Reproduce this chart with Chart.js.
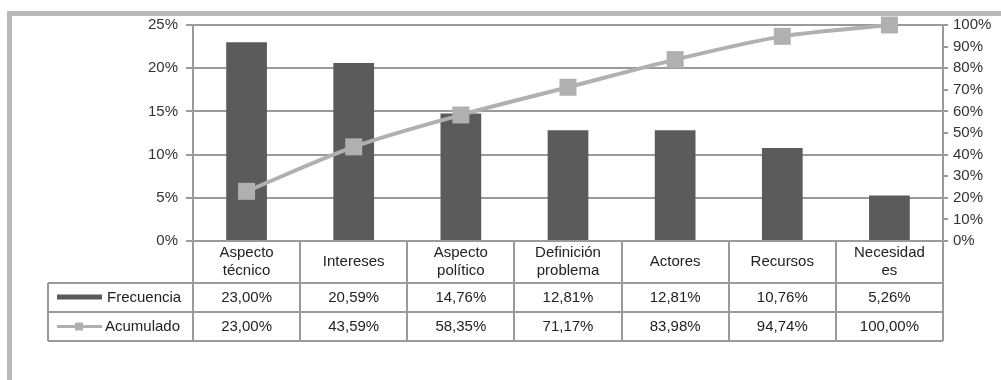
<!DOCTYPE html>
<html>
<head>
<meta charset="utf-8">
<script src="https://cdn.jsdelivr.net/npm/chart.js@4/dist/chart.umd.min.js"></script>
<style>
	html, body { margin: 0; padding: 0; background: #fff; }
	#caja { position: relative; width: 1001px; height: 380px; overflow: hidden; }
	#marco { position: absolute; left: 7px; top: 11px; right: -10px; bottom: -10px;
		border-top: 5px solid #b9b9b9; border-left: 5px solid #b9b9b9; }
	#grafico { position: absolute; left: 0; top: 0; }
</style>
</head>
<body>
<div id="caja">
	<div id="marco"></div>
	<canvas id="grafico" width="1001" height="380"></canvas>
</div>
<script>
/* datos */
var categorias = [['Aspecto', 'técnico'], ['Intereses'], ['Aspecto', 'político'], ['Definición', 'problema'], ['Actores'], ['Recursos'], ['Necesidad', 'es']];
var frecuencia = [23.00, 20.59, 14.76, 12.81, 12.81, 10.76, 5.26];
var acumulado = [23.00, 43.59, 58.35, 71.17, 83.98, 94.74, 100.00];
var ticksIzq = [0, 5, 10, 15, 20, 25];
var ticksDer = [0, 10, 20, 30, 40, 50, 60, 70, 80, 90, 100];

var colorBarra = '#5b5b5b';
var colorLinea = '#b0b0b0';
var colorRejilla = '#9a9a9a';
var fuente = '15px "Liberation Sans", Arial, sans-serif';

function porcentaje(v) {
	return v.toFixed(2).replace('.', ',') + '%';
}

// tabla de datos debajo del eje x
var tablaDatos = {
	id: 'tablaDatos',
	afterDraw: function(chart) {
		var ctx = chart.ctx;
		var area = chart.chartArea;
		var ejeX = chart.scales.x;
		var n = categorias.length;
		var ancho = (area.right - area.left) / n;
		var filas = [area.bottom, area.bottom + 42, area.bottom + 71, area.bottom + 100];
		var izq = 48;

		ctx.save();
		ctx.strokeStyle = colorRejilla;
		ctx.lineWidth = 2;
		ctx.beginPath();
		for (var f = 1; f < filas.length; f++) {
			ctx.moveTo(izq, filas[f]);
			ctx.lineTo(area.right, filas[f]);
		}
		ctx.moveTo(izq, filas[1]);
		ctx.lineTo(izq, filas[3]);
		for (var i = 0; i <= n; i++) {
			var bx = Math.round(area.left + i * ancho);
			ctx.moveTo(bx, filas[0]);
			ctx.lineTo(bx, filas[3]);
		}
		ctx.stroke();

		ctx.font = fuente;
		ctx.fillStyle = '#222';
		ctx.textAlign = 'center';
		ctx.textBaseline = 'middle';
		for (var j = 0; j < n; j++) {
			var cx = ejeX.getPixelForValue(j);
			var lineas = categorias[j];
			var y0 = (filas[0] + filas[1]) / 2 - (lineas.length - 1) * 9;
			for (var k = 0; k < lineas.length; k++) {
				ctx.fillText(lineas[k], cx, y0 + k * 18);
			}
			ctx.fillText(porcentaje(frecuencia[j]), cx, (filas[1] + filas[2]) / 2);
			ctx.fillText(porcentaje(acumulado[j]), cx, (filas[2] + filas[3]) / 2);
		}

		// claves de la leyenda
		var yF = (filas[1] + filas[2]) / 2;
		var yA = (filas[2] + filas[3]) / 2;
		ctx.fillStyle = colorBarra;
		ctx.fillRect(57, yF - 3, 45, 5);
		ctx.strokeStyle = colorLinea;
		ctx.lineWidth = 3;
		ctx.beginPath();
		ctx.moveTo(57, yA);
		ctx.lineTo(102, yA);
		ctx.stroke();
		ctx.fillStyle = colorLinea;
		ctx.fillRect(75, yA - 4, 8, 8);

		ctx.fillStyle = '#222';
		ctx.textAlign = 'left';
		ctx.fillText('Frecuencia', 107, yF);
		ctx.fillText('Acumulado', 105, yA);
		ctx.restore();
	}
};

var ctx = document.getElementById('grafico').getContext('2d');
var grafico = new Chart(ctx, {
	type: 'bar',
	data: {
		labels: categorias,
		datasets: [{
			type: 'line',
			label: 'Acumulado',
			data: acumulado,
			yAxisID: 'y1',
			borderColor: colorLinea,
			backgroundColor: colorLinea,
			borderWidth: 4,
			pointStyle: 'rect',
			pointRadius: 12,
			pointBorderWidth: 0,
			tension: 0.3,
			clip: false,
			order: 0
		}, {
			type: 'bar',
			label: 'Frecuencia',
			data: frecuencia,
			yAxisID: 'y',
			backgroundColor: colorBarra,
			barPercentage: 0.38,
			categoryPercentage: 1,
			order: 1
		}]
	},
	options: {
		responsive: false,
		animation: false,
		layout: { padding: { top: 25, left: 0, right: 0, bottom: 0 } },
		plugins: {
			legend: { display: false },
			tooltip: { enabled: false }
		},
		scales: {
			x: {
				ticks: { display: false },
				grid: { display: false },
				border: { display: false },
				afterFit: function(scale) { scale.height = 139; }
			},
			y: {
				position: 'left',
				min: 0,
				max: 25,
				afterBuildTicks: function(scale) {
					scale.ticks = ticksIzq.map(function(v) { return { value: v }; });
				},
				ticks: {
					padding: 8,
					color: '#333',
					font: { family: '"Liberation Sans", Arial, sans-serif', size: 15 },
					callback: function(v) { return v + '%'; }
				},
				grid: { color: colorRejilla, lineWidth: 2, tickLength: 7 },
				border: { display: true, color: colorRejilla, width: 2 },
				afterFit: function(scale) { scale.width = 193; }
			},
			y1: {
				position: 'right',
				min: 0,
				max: 100,
				afterBuildTicks: function(scale) {
					scale.ticks = ticksDer.map(function(v) { return { value: v }; });
				},
				ticks: {
					padding: 5,
					color: '#333',
					font: { family: '"Liberation Sans", Arial, sans-serif', size: 15 },
					callback: function(v) { return v + '%'; }
				},
				grid: { drawOnChartArea: false, color: colorRejilla, lineWidth: 2, tickLength: 5 },
				border: { display: true, color: colorRejilla, width: 2 },
				afterFit: function(scale) { scale.width = 58; }
			}
		}
	},
	plugins: [tablaDatos]
});
</script>
</body>
</html>
